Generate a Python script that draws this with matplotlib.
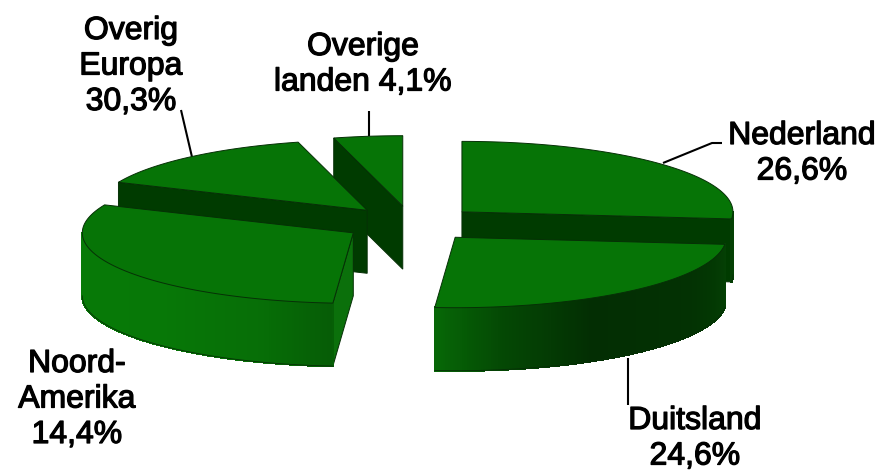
import numpy as np
import matplotlib
matplotlib.use("Agg")
import matplotlib.pyplot as plt
from matplotlib.patches import Polygon
from matplotlib.collections import PolyCollection
import matplotlib.patheffects as pe

# Slice shares, clockwise from 12 o'clock, as drawn in the picture
slice_values = [26.6, 24.6, 30.3, 14.4, 4.1]
# The labels as printed in the chart
label_texts = ["Nederland\n26,6%", "Duitsland\n24,6%", "Noord-\nAmerika\n14,4%",
               "Overig\nEuropa\n30,3%", "Overige\nlanden 4,1%"]

CX, CY = 411.5, 223.7
R, K = 271.0, 0.26
EXPLODE, DEPTH = 68.0, 63.0
TOP = "#067406"
DARK = "#003b00"
EDGE = "#063006"

plt.rcParams["font.family"] = ["Liberation Sans", "DejaVu Sans"]
fig = plt.figure(figsize=(8.79, 4.72), dpi=100)
ax = fig.add_axes([0, 0, 1, 1])
ax.set_xlim(0, 879)
ax.set_ylim(472, 0)
ax.axis("off")

# rim brightness by angle (deg clockwise from top)
RIM_A = [90, 120, 150, 170, 184.6, 184.7, 200, 225, 270]
RIM_G = [68, 50, 46, 72, 104, 92, 110, 120, 122]


def rim_color(a):
    g = np.interp(a, RIM_A, RIM_G)
    return (g * 0.06 / 255, g / 255, g * 0.06 / 255)


def pt(ax0, ay0, a, r=R):
    return ax0 + r * np.sin(a), ay0 - r * K * np.cos(a)


shares = np.array(slice_values) / sum(slice_values) * 2 * np.pi
starts = np.concatenate([[0], np.cumsum(shares)[:-1]])
ends = starts + shares
mids = (starts + ends) / 2
order = [4, 3, 0, 2, 1]

for i in order:
    a0, a1, m = starts[i], ends[i], mids[i]
    x0, y0 = pt(CX, CY, m, EXPLODE)
    z = order.index(i) * 3
    # radial cut faces that look toward the viewer
    for ang, visible in ((a0, np.sin(a0) < -1e-6), (a1, np.sin(a1) > 1e-6)):
        if visible:
            xr, yr = pt(x0, y0, ang)
            color = "#0b700b" if np.cos(ang) < -0.9 else DARK
            ax.add_patch(Polygon([(x0, y0), (xr, yr), (xr, yr + DEPTH), (x0, y0 + DEPTH)],
                                 closed=True, fc=color, ec=EDGE, lw=0.7, zorder=2 + z))
    # outer rim, front half only
    lo, hi = max(a0, np.pi / 2), min(a1, 3 * np.pi / 2)
    if hi > lo:
        aa = np.linspace(lo, hi, max(int(np.degrees(hi - lo) * 2), 2))
        quads, cols = [], []
        for u, v in zip(aa[:-1], aa[1:]):
            xu, yu = pt(x0, y0, u)
            xv, yv = pt(x0, y0, v)
            quads.append([(xu, yu), (xv, yv), (xv, yv + DEPTH), (xu, yu + DEPTH)])
            cols.append(rim_color(np.degrees((u + v) / 2) + (0.1 if i == 2 else 0)))
        ax.add_collection(PolyCollection(quads, facecolors=cols, edgecolors=cols, linewidths=1.0,
                                         antialiaseds=False, zorder=3 + z))
        bx, by = pt(x0, y0, aa)
        ax.plot(bx, by + DEPTH, color=EDGE, lw=0.6, zorder=3 + z)
    # top face
    aa = np.linspace(a0, a1, 120)
    tx, ty = pt(x0, y0, aa)
    ax.add_patch(Polygon(np.vstack([[x0, y0], np.column_stack([tx, ty])]), closed=True,
                         fc=TOP, ec=EDGE, lw=0.7, zorder=4 + z))

# leader lines
leaders = [([663, 712, 722], [163, 143, 143]), ([628, 628], [358, 405]),
           ([192, 181], [157, 110]), ([369, 369], [136, 111])]
for lx, ly in leaders:
    ax.plot(lx, ly, color="black", lw=1.5, zorder=1 if lx[0] != 628 else 30, solid_capstyle="butt")

# x centre and baseline of each label's first line
label_pos = [(802, 144), (695, 429), (77, 372), (131, 39), (363, 55)]
LINE_STEP = 35.5
for t, (x, y) in zip(label_texts, label_pos):
    for k, line in enumerate(t.split("\n")):
        ax.text(x, y + k * LINE_STEP, line, ha="center", va="baseline", fontsize=23, color="black",
                path_effects=[pe.withStroke(linewidth=0.9, foreground="black")], zorder=40)

fig.savefig("out.png", dpi=100, facecolor="white")
